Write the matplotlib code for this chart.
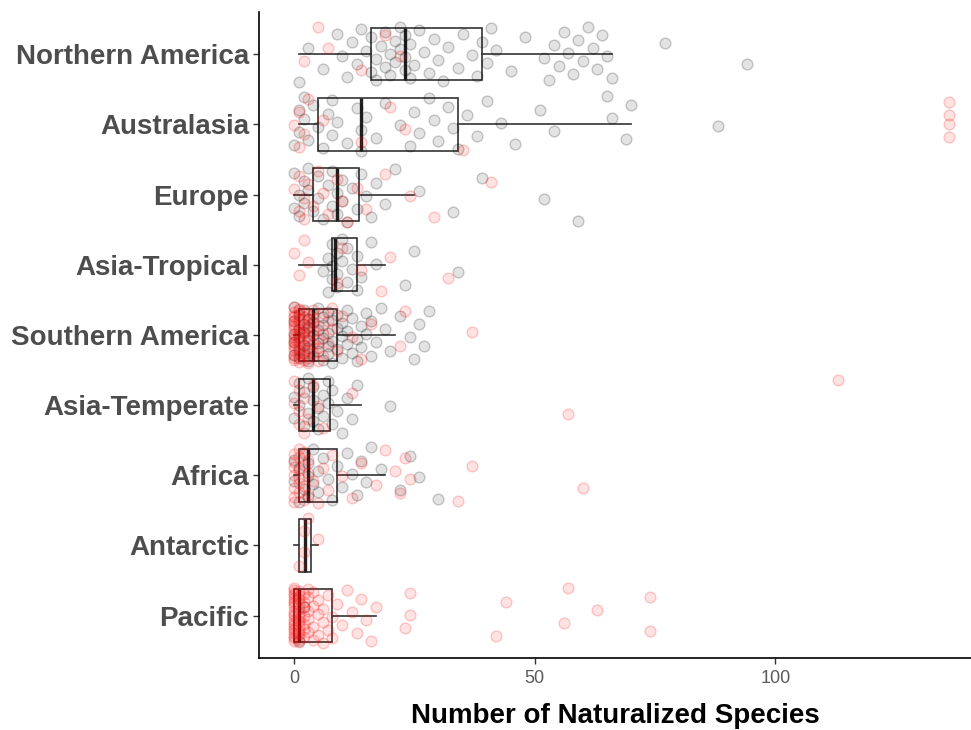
import numpy as np
import matplotlib
matplotlib.use("Agg")
import matplotlib.pyplot as plt

plt.rcParams["font.family"] = ["Liberation Sans", "DejaVu Sans"]

regions = ["Northern America", "Australasia", "Europe", "Asia-Tropical",
           "Southern America", "Asia-Temperate", "Africa", "Antarctic", "Pacific"]

# naturalized species per site, split by group (black / red points)
black_pts = [
    [1, 3, 6, 9, 10, 11, 12, 13, 14, 15, 16, 16, 17, 17, 18, 19, 19, 20, 20, 21, 21,
     22, 22, 23, 23, 23, 24, 24, 25, 26, 27, 28, 29, 30, 31, 32, 34, 35, 37, 38, 39,
     40, 41, 42, 45, 48, 52, 53, 54, 55, 56, 57, 58, 59, 60, 61, 62, 63, 64, 65, 66,
     77, 94],
    [0, 1, 1, 2, 2, 3, 4, 5, 6, 7, 8, 8, 9, 11, 13, 14, 14, 15, 17, 19, 22, 24, 25,
     26, 28, 29, 30, 32, 33, 34, 36, 38, 40, 43, 46, 51, 54, 65, 66, 69, 70, 88],
    [0, 0, 1, 1, 2, 2, 3, 3, 4, 5, 5, 6, 7, 8, 8, 9, 9, 10, 10, 11, 12, 13, 14, 15,
     16, 17, 19, 21, 26, 33, 39, 52, 59],
    [6, 7, 7, 8, 8, 8, 9, 9, 9, 10, 10, 11, 11, 12, 13, 13, 14, 16, 17, 23, 25, 34],
    [0, 0, 0, 0, 0, 1, 1, 1, 1, 1, 2, 2, 2, 2, 2, 3, 3, 3, 3, 3, 4, 4, 4, 4, 5, 5, 5,
     5, 6, 6, 6, 6, 7, 7, 7, 7, 8, 8, 8, 9, 9, 9, 10, 10, 10, 11, 11, 11, 12, 12, 13,
     13, 14, 14, 15, 15, 16, 16, 17, 18, 19, 20, 22, 24, 25, 26, 27, 28],
    [0, 0, 1, 1, 2, 2, 3, 3, 4, 4, 4, 5, 5, 6, 6, 7, 7, 8, 8, 9, 10, 11, 12, 13, 20],
    [0, 0, 1, 1, 2, 2, 3, 3, 3, 4, 4, 5, 5, 6, 7, 8, 9, 10, 11, 12, 13, 14, 15, 16,
     18, 22, 24, 26, 30],
    [],
    [1, 2],
]
red_pts = [
    [2, 5, 7, 14, 19, 22],
    [0, 1, 1, 2, 3, 6, 14, 20, 23, 35, 136, 136, 136, 136],
    [0, 1, 1, 2, 2, 3, 4, 5, 6, 7, 9, 10, 11, 13, 15, 19, 24, 29, 41],
    [0, 1, 2, 3, 9, 10, 14, 18, 20, 32],
    [0, 0, 0, 0, 0, 0, 0, 0, 0, 0, 0, 0, 0, 0, 0, 0, 0, 0, 1, 1, 1, 1, 1, 1, 1, 1, 1,
     1, 1, 1, 1, 1, 2, 2, 2, 2, 2, 2, 2, 2, 2, 2, 3, 3, 3, 3, 3, 3, 3, 3, 4, 4, 4, 4,
     4, 4, 5, 5, 5, 5, 6, 6, 6, 7, 7, 8, 8, 9, 10, 12, 14, 16, 22, 23, 37],
    [0, 0, 1, 1, 1, 2, 2, 3, 4, 5, 6, 12, 57, 113],
    [0, 0, 0, 0, 0, 0, 0, 1, 1, 1, 1, 1, 1, 2, 2, 2, 2, 3, 3, 3, 4, 5, 6, 7, 8, 10,
     12, 14, 17, 19, 21, 22, 23, 24, 34, 37, 60],
    [1, 2, 2, 3, 5],
    [0, 0, 0, 0, 0, 0, 0, 0, 0, 0, 0, 0, 0, 0, 0, 0, 0, 0, 0, 0, 1, 1, 1, 1, 1, 1, 1,
     1, 1, 1, 1, 1, 1, 2, 2, 2, 2, 2, 2, 2, 3, 3, 3, 3, 3, 4, 4, 4, 4, 5, 5, 5, 6, 6,
     6, 7, 7, 8, 8, 9, 10, 11, 12, 13, 14, 15, 16, 17, 23, 24, 24, 42, 44, 56, 57, 63,
     74, 74],
]

# box statistics per region
q1 = [16, 5, 4, 8, 1, 1, 1, 1, 0]
med = [23, 14, 9, 8.5, 4, 4, 3, 2.3, 1]
q3 = [39, 34, 13.5, 13, 9, 7.5, 9, 3.5, 8]
whis_lo = [1, 1, 0, 1, 0, 0, 0, 0, 0]
whis_hi = [66, 70, 25, 19, 21, 14, 19, 5, 17]

fig = plt.figure(figsize=(9.71, 7.30), dpi=100)
ax = fig.add_axes([0.2667, 0.099, 0.7333, 0.8845])

ypos = np.arange(len(regions))[::-1] + 1.0

stats = [dict(q1=a, med=m, q3=b, whislo=lo, whishi=hi, fliers=[])
         for a, m, b, lo, hi in zip(q1, med, q3, whis_lo, whis_hi)]
line = dict(color="#333333", linewidth=1.2)
ax.bxp(stats, positions=ypos, widths=0.75, vert=False, patch_artist=True,
       showcaps=False, showfliers=False,
       boxprops=dict(facecolor="white", edgecolor="#333333", linewidth=1.2),
       whiskerprops=line, medianprops=dict(color="#222222", linewidth=2.4),
       zorder=2)

golden = 0.6180339887


def jitter(n, phase):
    # evenly spread vertical offsets within +/-0.4 of the row
    k = np.arange(n)
    return ((k * golden + phase) % 1.0 - 0.5) * 0.8


for i, y in enumerate(ypos):
    for vals, col, ph in ((black_pts[i], "black", 0.13 * i),
                          (red_pts[i], "red", 0.37 + 0.11 * i)):
        if not vals:
            continue
        v = np.asarray(vals, dtype=float)
        ax.scatter(v, y + jitter(len(v), ph), s=60,
                   facecolor=matplotlib.colors.to_rgba(col, 0.11),
                   edgecolor=matplotlib.colors.to_rgba(col, 0.2),
                   linewidth=1.0, zorder=3)

ax.set_xlim(-7.27, 140.6)
ax.set_ylim(0.4, 9.6)
ax.set_xticks([0, 50, 100])
ax.set_yticks(ypos)
ax.set_yticklabels(regions)

for s in ("top", "right"):
    ax.spines[s].set_visible(False)
for s in ("left", "bottom"):
    ax.spines[s].set_linewidth(1.2)
    ax.spines[s].set_color("black")

ax.tick_params(axis="x", length=4, width=1, color="#333333",
               labelsize=13, labelcolor="#5A5A5A", pad=5)
ax.tick_params(axis="y", length=4, width=1, color="#333333",
               labelsize=20, labelcolor="#4D4D4D", pad=3)
for lab in ax.get_yticklabels():
    lab.set_fontweight("bold")

ax.set_xlabel("Number of Naturalized Species", fontsize=20, fontweight="bold",
              color="black", labelpad=11)

fig.savefig("out.png", dpi=100, facecolor="white")
